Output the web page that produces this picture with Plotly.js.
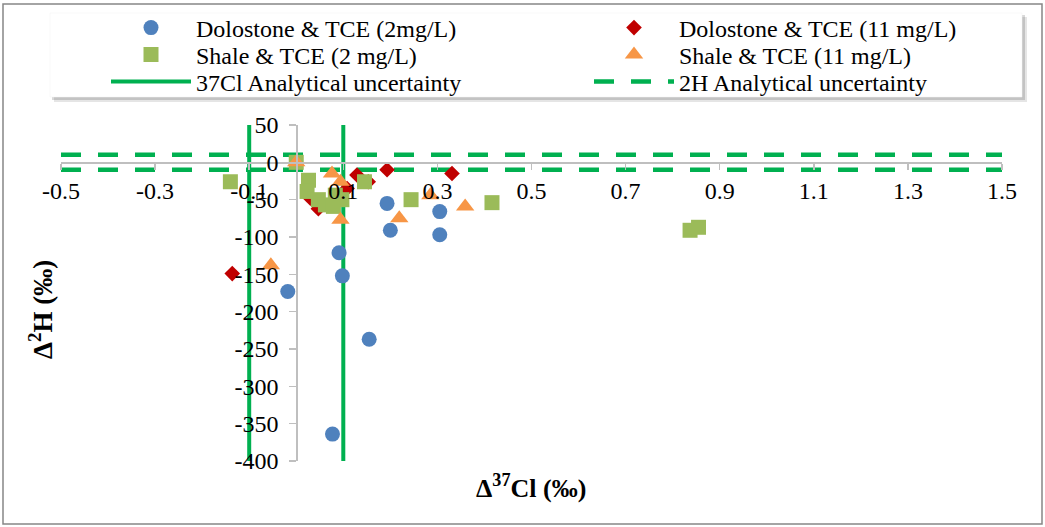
<!DOCTYPE html>
<html>
<head>
<meta charset="utf-8">
<script src="https://cdn.plot.ly/plotly-3.0.1.min.js"></script>
<style>
  html, body { margin: 0; padding: 0; background: #ffffff; }
  #chart { width: 1045px; height: 527px; }
</style>
</head>
<body>
<div id="chart"></div>
<script>
// ---- Data ----
const dolo2X = [-0.018, 0.077, 0.091, 0.098, 0.155, 0.193, 0.200, 0.305, 0.305];
const dolo2Y = [-173, -364, -121, -152, -237, -55, -91, -66, -97];

const dolo11X = [-0.136, 0.030, 0.047, 0.108, 0.129, 0.153, 0.193, 0.331];
const dolo11Y = [-149, -48, -62, -35, -17, -26, -10, -15];

const shale2X = [-0.140, 0.000, 0.026, 0.023, 0.047, 0.062, 0.083, 0.097, 0.079, 0.145, 0.244, 0.416, 0.837, 0.855];
const shale2Y = [-26, 0, -24, -39, -50, -57, -44, -50, -59, -26, -50, -54, -91, -87];

const shale11X = [-0.054, 0.000, 0.076, 0.094, 0.094, 0.219, 0.285, 0.359];
const shale11Y = [-138, 0, -15, -26, -77, -75, -44, -59];

// analytical uncertainty limits
const cl37Unc = [-0.1, 0.1];   // per mil, vertical lines
const h2Unc = [-10, 10];       // per mil, horizontal dashed lines

// axes
const xRange = [-0.5, 1.5];
const yRange = [-400, 50];
const xTickVals = [-0.5, -0.3, -0.1, 0.1, 0.3, 0.5, 0.7, 0.9, 1.1, 1.3, 1.5];
const xTickText = ["-0.5", "-0.3", "-0.1", "0.1", "0.3", "0.5", "0.7", "0.9", "1.1", "1.3", "1.5"];
const yTickVals = [50, 0, -50, -100, -150, -200, -250, -300, -350, -400];
const yTickText = ["50", "0", "-50", "-100", "-150", "-200", "-250", "-300", "-350", "-400"];

const seriesNames = [
  "Dolostone & TCE (2mg/L)",
  "Dolostone & TCE (11 mg/L)",
  "Shale & TCE (2 mg/L)",
  "Shale & TCE (11 mg/L)",
  "37Cl Analytical uncertainty",
  "2H Analytical uncertainty"
];

// ---- Build traces ----
const FONT = "Liberation Serif, 'Times New Roman', Times, serif";
const GREEN = "#00B050";

const vX = [], vY = [];
cl37Unc.forEach((v, i) => {
  if (i > 0) { vX.push(null); vY.push(null); }
  vX.push(v, v); vY.push(yRange[1], yRange[0]);
});
const hX = [], hY = [];
h2Unc.forEach((v, i) => {
  if (i > 0) { hX.push(null); hY.push(null); }
  hX.push(xRange[0], xRange[1]); hY.push(v, v);
});

const traces = [
  { x: vX, y: vY, mode: "lines", name: seriesNames[4], legend: "legend5",
    line: { color: GREEN, width: 4 }, connectgaps: false, hoverinfo: "skip" },
  { x: hX, y: hY, mode: "lines", name: seriesNames[5], legend: "legend6",
    line: { color: GREEN, width: 4.5, dash: "20px,17px" }, connectgaps: false, hoverinfo: "skip" },
  { x: dolo2X, y: dolo2Y, mode: "markers", name: seriesNames[0], legend: "legend",
    marker: { symbol: "circle", size: 15, color: "#4F81BD" } },
  { x: dolo11X, y: dolo11Y, mode: "markers", name: seriesNames[1], legend: "legend2",
    marker: { symbol: "diamond", size: 12, color: "#C00000" } },
  { x: shale2X, y: shale2Y, mode: "markers", name: seriesNames[2], legend: "legend3",
    marker: { symbol: "square", size: 15, color: "#9BBB59" } },
  { x: shale11X, y: shale11Y, mode: "markers", name: seriesNames[3], legend: "legend4",
    marker: { symbol: "triangle-up", size: 16, color: "#F79646" } }
];

// ---- Layout helpers (pixel -> paper) ----
const M = { l: 61, r: 43, t: 125, b: 66, autoexpand: false };
const PW = 1045 - M.l - M.r, PH = 527 - M.t - M.b;
const px = v => (v - M.l) / PW;
const py = v => (527 - M.b - v) / PH;

function leg(xp, yp) {
  return {
    orientation: "h", xanchor: "left", yanchor: "middle",
    x: px(xp), y: py(yp),
    bgcolor: "rgba(0,0,0,0)", borderwidth: 0,
    font: { family: FONT, size: 24, color: "#000" },
    itemwidth: 80,
    itemclick: false, itemdoubleclick: false
  };
}

const layout = {
  width: 1045, height: 527,
  margin: M,
  paper_bgcolor: "#ffffff", plot_bgcolor: "rgba(0,0,0,0)",
  font: { family: FONT, size: 24, color: "#000" },
  showlegend: true,
  legend: leg(106, 28),
  legend2: leg(589, 28),
  legend3: leg(106, 55),
  legend4: leg(589, 55),
  legend5: leg(106, 82),
  legend6: leg(589, 82),
  xaxis: {
    range: xRange, anchor: "free", position: (0 - yRange[0]) / (yRange[1] - yRange[0]),
    tickmode: "array", tickvals: xTickVals, ticktext: xTickText,
    showline: true, linecolor: "#BFBFBF", linewidth: 1.5,
    ticks: "outside", ticklen: 6, tickcolor: "#BFBFBF", tickwidth: 1.5,
    showgrid: false, zeroline: false,
    tickfont: { family: FONT, size: 24, color: "#000" }
  },
  yaxis: {
    range: yRange, anchor: "free", position: (0 - xRange[0]) / (xRange[1] - xRange[0]),
    tickmode: "array", tickvals: yTickVals, ticktext: yTickText,
    showline: true, linecolor: "#BFBFBF", linewidth: 1.5,
    ticks: "outside", ticklen: 7, tickcolor: "#BFBFBF", tickwidth: 1.5,
    ticklabelstandoff: 6,
    showgrid: false, zeroline: false,
    tickfont: { family: FONT, size: 24, color: "#000" }
  },
  shapes: [
    // outer chart border
    { type: "rect", xref: "paper", yref: "paper", layer: "below",
      x0: px(3), x1: px(1042), y0: py(524), y1: py(4),
      line: { color: "#868686", width: 1.5 }, fillcolor: "rgba(0,0,0,0)" },
    // legend shadow
    { type: "rect", xref: "paper", yref: "paper", layer: "below",
      x0: px(54), x1: px(1027), y0: py(102), y1: py(17),
      line: { width: 0 }, fillcolor: "rgba(0,0,0,0.10)" },
    { type: "rect", xref: "paper", yref: "paper", layer: "below",
      x0: px(52), x1: px(1025), y0: py(100), y1: py(15),
      line: { width: 0 }, fillcolor: "rgba(0,0,0,0.15)" },
    // legend box
    { type: "rect", xref: "paper", yref: "paper", layer: "below",
      x0: px(50), x1: px(1022), y0: py(97), y1: py(13),
      line: { color: "#F2F2F2", width: 0.5 }, fillcolor: "#ffffff" }
  ],
  annotations: [
    { xref: "paper", yref: "paper", x: px(531), y: py(486), showarrow: false,
      xanchor: "center", yanchor: "middle",
      text: "<b>Δ<sup>37</sup>Cl (‰)</b>", font: { family: FONT, size: 26, color: "#000" } },
    { xref: "paper", yref: "paper", x: px(41), y: py(310), showarrow: false,
      xanchor: "center", yanchor: "middle", textangle: -90,
      text: "<b>Δ<sup>2</sup>H (‰)</b>", font: { family: FONT, size: 27, color: "#000" } }
  ]
};

Plotly.newPlot("chart", traces, layout, { displayModeBar: false, staticPlot: true });
</script>
</body>
</html>
